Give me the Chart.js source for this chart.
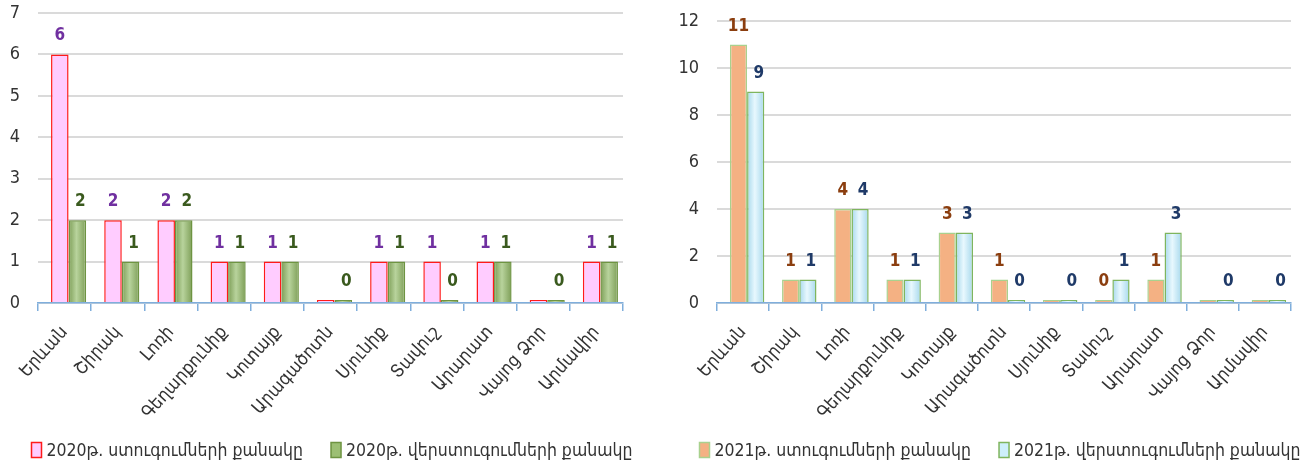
<!DOCTYPE html>
<html>
<head>
<meta charset="utf-8">
<script src="https://cdn.jsdelivr.net/npm/chart.js@4.4.1/dist/chart.umd.min.js"></script>
<style>
  body { margin: 0; background: #fff; }
  .box { position: absolute; top: 0; height: 465px; }
</style>
</head>
<body>
<div class="box" style="left:0;width:650px"><canvas id="chart2020" width="650" height="465"></canvas></div>
<div class="box" style="left:655px;width:651px"><canvas id="chart2021" width="651" height="465"></canvas></div>
<script>
const categories = ['Երևան', 'Շիրակ', 'Լոռի', 'Գեղարքունիք', 'Կոտայք', 'Արագածոտն', 'Սյունիք', 'Տավուշ', 'Արարատ', 'Վայոց Ձոր', 'Արմավիր'];

const checks2020 = [6, 2, 2, 1, 1, 0, 1, 1, 1, 0, 1];
const rechecks2020 = [2, 1, 2, 1, 1, 0, 1, 0, 1, 0, 1];
const checks2021 = [11, 1, 4, 1, 3, 1, 0, 0, 1, 0, 0];
const rechecks2021 = [9, 1, 4, 1, 3, 0, 0, 1, 3, 0, 0];

const legend2020 = ['2020թ. ստուգումների քանակը', '2020թ. վերստուգումների քանակը'];
const legend2021 = ['2021թ. ստուգումների քանակը', '2021թ. վերստուգումների քանակը'];

const FONT = "'DejaVu Sans Condensed', 'DejaVu Sans', sans-serif";
const SHIFT = 4; // the 3D original sits its bars a little right of the tick centre

// nudges the bars to the right while they are drawn
const barShift = {
  id: 'barShift',
  beforeDatasetsDraw(chart) { chart.ctx.save(); chart.ctx.translate(SHIFT, 0); },
  afterDatasetsDraw(chart) { chart.ctx.restore(); }
};

// value labels above the bars; when both bars are 0 only the second label shows
const valueLabels = {
  id: 'valueLabels',
  afterDatasetsDraw(chart, args, opts) {
    const ctx = chart.ctx;
    ctx.save();
    ctx.font = 'bold 17px ' + FONT;
    ctx.textAlign = 'center';
    ctx.textBaseline = 'alphabetic';
    chart.data.datasets.forEach((ds, di) => {
      const meta = chart.getDatasetMeta(di);
      meta.data.forEach((bar, i) => {
        const v = ds.data[i];
        if (di === 0 && v === 0 && chart.data.datasets[1].data[i] === 0) return;
        ctx.fillStyle = opts.colors[di];
        ctx.fillText(String(v), bar.x + SHIFT + (di === 1 ? 3 : 0), bar.y - 14);
      });
    });
    ctx.restore();
  }
};

// legend drawn by hand so its position and spacing can match the original
const bottomLegend = {
  id: 'bottomLegend',
  afterDraw(chart, args, opts) {
    const ctx = chart.ctx;
    ctx.save();
    ctx.font = '17.5px ' + FONT;
    ctx.textBaseline = 'middle';
    const items = chart.data.datasets.map((ds, k) => ({
      text: ds.label, fill: opts.fills[k], border: ds.borderColor,
      w: ctx.measureText(ds.label).width
    }));
    const total = items.reduce((s, it) => s + 10 + 5 + it.w, 0) + 28 * (items.length - 1);
    let x = opts.center - total / 2;
    items.forEach((it) => {
      ctx.fillStyle = it.fill;
      ctx.fillRect(x, opts.y - 7.5, 10, 15);
      ctx.strokeStyle = it.border;
      ctx.lineWidth = 1.5;
      ctx.strokeRect(x, opts.y - 7.5, 10, 15);
      ctx.fillStyle = '#333333';
      ctx.fillText(it.text, x + 15, opts.y + 1);
      x += 15 + it.w + 28;
    });
    ctx.restore();
  }
};

// cylinder-like shading across the bar width
function cylinder(flat, edge, mid) {
  return (c) => {
    const el = c.element;
    if (!el || typeof el.x !== 'number' || !el.width) return flat;
    const g = c.chart.ctx.createLinearGradient(el.x - el.width / 2, 0, el.x + el.width / 2, 0);
    g.addColorStop(0, edge);
    g.addColorStop(0.45, mid);
    g.addColorStop(1, edge);
    return g;
  };
}

function makeChart(id, first, second, names, max, step, colors, yWidth, padRight, padTop, legendCenter) {
  const chart = new Chart(document.getElementById(id), {
    type: 'bar',
    data: {
      labels: categories,
      datasets: [
        {
          label: names[0],
          data: first,
          backgroundColor: colors.fill[0],
          borderColor: colors.border[0],
          borderWidth: 1.5
        },
        {
          label: names[1],
          data: second,
          backgroundColor: cylinder(colors.fill[1], colors.edge, colors.mid),
          borderColor: colors.border[1],
          borderWidth: 1.5
        }
      ]
    },
    options: {
      responsive: false,
      animation: false,
      layout: { padding: { top: padTop, right: padRight, left: 0, bottom: 37 } },
      datasets: {
        bar: { barPercentage: 1, categoryPercentage: 0.66, minBarLength: 3 }
      },
      scales: {
        x: {
          afterFit: (s) => { s.height = 125; },
          border: { display: true, color: '#7FAEDC', width: 1.5 },
          grid: { drawOnChartArea: false, color: '#7FAEDC', tickLength: 8, lineWidth: 1.5 },
          ticks: {
            minRotation: 48, maxRotation: 48,
            color: '#333333',
            font: { family: FONT, size: 18 },
            padding: 11
          }
        },
        y: {
          min: 0, max: max,
          afterFit: (s) => { s.width = yWidth; s.paddingTop = 0; s.paddingBottom = 0; },
          border: { display: false },
          grid: { color: '#DADADA', lineWidth: 2, drawTicks: false },
          ticks: {
            stepSize: step,
            color: '#333333',
            font: { family: FONT, size: 18 },
            padding: 18
          }
        }
      },
      plugins: {
        legend: { display: false },
        tooltip: { enabled: false },
        valueLabels: { colors: colors.label },
        bottomLegend: { fills: colors.fill, center: legendCenter, y: 450 }
      }
    },
    plugins: [barShift, valueLabels, bottomLegend]
  });
  chart.update('none');
}

makeChart('chart2020', checks2020, rechecks2020, legend2020, 7, 1, {
  fill: ['#FFCCFF', '#9CBF74'],
  border: ['#FF1A1A', '#6E9442'],
  edge: '#7D9E57', mid: '#B8D39C',
  label: ['#7030A0', '#3A5A1E']
}, 38, 27, 13, 332);

makeChart('chart2021', checks2021, rechecks2021, legend2021, 12, 2, {
  fill: ['#F4B183', '#CDEFFB'],
  border: ['#A9D18E', '#7FB55E'],
  edge: '#A6D8EC', mid: '#E8F8FE',
  label: ['#8B3E0F', '#1F3A68']
}, 62, 15, 21, 345);
</script>
</body>
</html>
